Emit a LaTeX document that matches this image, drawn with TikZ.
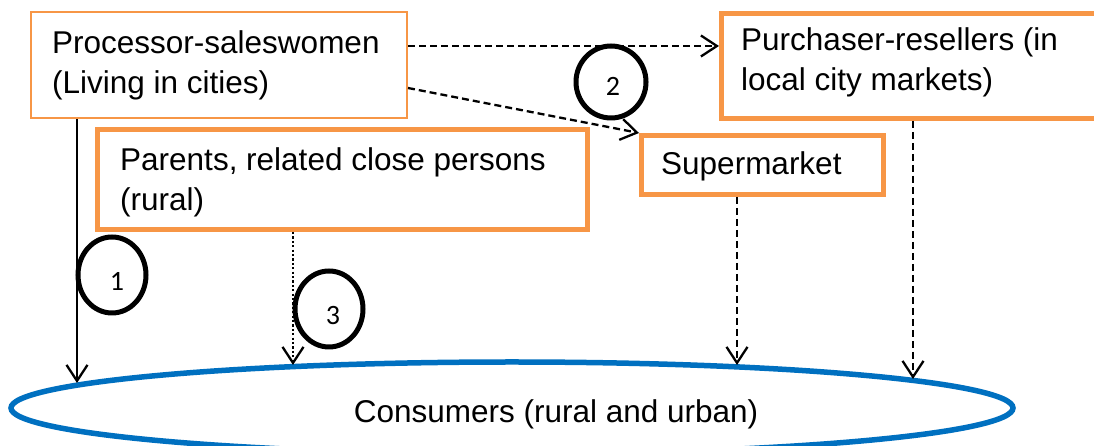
\documentclass[tikz,border=0pt]{standalone}
\usepackage{fontspec}
\setmainfont{Liberation Sans}
\newfontfamily\digitfont{Carlito}
\usetikzlibrary{arrows.meta,shapes.geometric}
\definecolor{boxorange}{HTML}{F79646}
\definecolor{ellblue}{HTML}{0070C0}
\begin{document}
\begin{tikzpicture}[x=1pt,y=1pt,
  thinbox/.style={draw=boxorange, line width=2pt, rectangle, inner sep=0pt, anchor=north west},
  thickbox/.style={draw=boxorange, line width=5pt, rectangle, inner sep=0pt, anchor=north west},
  lbl/.style={font=\fontsize{31.5}{40}\selectfont, align=left, inner sep=0pt},
  num/.style={draw=black, line width=5pt, ellipse, inner sep=0pt},
  numtxt/.style={font=\digitfont\fontsize{28}{28}\selectfont, inner sep=0pt},
  conn/.style={line width=2.3pt, -{Straight Barb[length=16pt,width=21pt]}},
  dashconn/.style={conn, dash pattern=on 7pt off 4pt},
  dotconn/.style={conn, dash pattern=on 2.2pt off 2.2pt},
]
\useasboundingbox[fill=white] (0,0) rectangle (1094,446);

% boxes
\node[thinbox, minimum width=376pt, minimum height=106pt] (proc) at (30,435) {};
\node[thickbox, minimum width=490pt, minimum height=100pt] (par) at (95,319) {};
\node[thickbox, minimum width=396pt, minimum height=105pt] (pur) at (719,435) {};
\node[thickbox, minimum width=242pt, minimum height=59pt] (sup) at (639,313) {};
\node[draw=ellblue, line width=5.5pt, ellipse, minimum width=1002pt, minimum height=92pt, inner sep=0pt] (cons) at (512,38) {};

% texts
\node[lbl, anchor=west] (procT) at (52,380.8) {Processor-saleswomen\\(Living in cities)};
\node[lbl, anchor=west] (parT) at (120,263.8) {Parents, related close persons\\(rural)};
\node[lbl, anchor=west] (purT) at (741,384) {Purchaser-resellers (in\\local city markets)};
\node[lbl, anchor=base west] (supT) at (661,271) {Supermarket};
\node[lbl, anchor=base] (consT) at (556,23) {Consumers (rural and urban)};

% numbered circles
\node[num, minimum width=68pt, minimum height=76pt] (c1) at (112,171) {};
\node[numtxt] (n1) at (117,165) {1};
\node[num, minimum width=68pt, minimum height=76pt] (c3) at (329,137) {};
\node[numtxt] (n3) at (333,130) {3};
\node[num, minimum width=70pt, minimum height=72pt] (c2) at (611,364) {};
\node[numtxt] (n2) at (613,360) {2};

% end points on the consumers ellipse
\coordinate (e1) at (77,63);
\coordinate (e3) at (293,81);
\coordinate (e4) at (737,81);
\coordinate (e5) at (913,67);

% connectors
\draw[conn] (proc.south -| e1) -- (e1);
\draw[dotconn] (par.south -| e3) -- (e3);
\draw[dashconn] (sup.south -| e4) -- (e4);
\draw[dashconn] (pur.south -| e5) -- (e5);
\draw[dashconn] ([yshift=19pt]proc.east) -- ([yshift=19pt]proc.east -| pur.west);
\draw[dashconn] ([yshift=-23pt]proc.east) -- (sup.north west);
\end{tikzpicture}
\end{document}
